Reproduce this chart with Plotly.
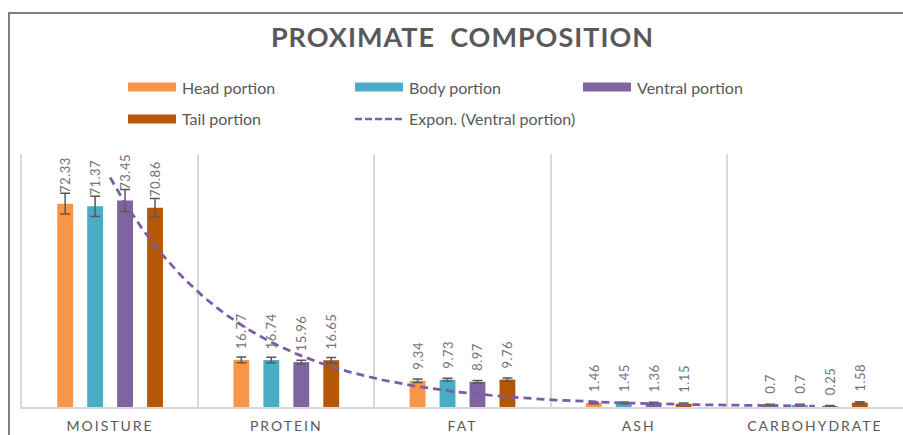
import numpy as np
import plotly.graph_objects as go

# ---------------- data ----------------
categories = ["MOISTURE", "PROTEIN", "FAT", "ASH", "CARBOHYDRATE"]
series_names = ["Head portion", "Body portion", "Ventral portion", "Tail portion"]
head = [72.33, 16.77, 9.34, 1.46, 0.7]
body = [71.37, 16.74, 9.73, 1.45, 0.7]
ventral = [73.45, 15.96, 8.97, 1.36, 0.25]
tail = [70.86, 16.65, 9.76, 1.15, 1.58]
head_err = [3.7, 1.0, 0.6, 0.3, 0.3]
body_err = [3.6, 1.0, 0.5, 0.3, 0.3]
ventral_err = [3.9, 0.7, 0.5, 0.3, 0.3]
tail_err = [3.3, 1.0, 0.6, 0.3, 0.3]
trend_name = "Expon. (Ventral portion)"
title_text = "PROXIMATE  COMPOSITION"

# ---------------- style ----------------
colors = ["#F79646", "#4BACC6", "#8064A2", "#B65708"]
W, H = 903, 435
ML, MR, MT, MB = 22, 0, 154, 28
PW, PH = W - ML - MR, H - MT - MB
FONT = "Lato"
TXT = "#595959"
LABEL_PAD = 3.2  # data units between bar top and its value label


def px_x(p):
    return (p - ML) / PW


def px_y(p):
    return (H - MB - p) / PH


fig = go.Figure()

values = [head, body, ventral, tail]
errors = [head_err, body_err, ventral_err, tail_err]
for name, vals, errs, col in zip(series_names, values, errors, colors):
    fig.add_trace(go.Bar(
        x=categories, y=vals, name=name, offsetgroup=name,
        marker=dict(color=col, line=dict(width=0)),
        error_y=dict(type="data", array=errs, visible=True,
                     color="#595959", thickness=1.5, width=5),
        showlegend=False,
    ))
    # transparent carrier bar for the value labels
    fig.add_trace(go.Bar(
        x=categories, y=[LABEL_PAD] * len(vals), base=vals, offsetgroup=name,
        marker=dict(color="rgba(0,0,0,0)", line=dict(width=0)),
        text=[str(v) for v in vals], textposition="outside", textangle=-90,
        constraintext="none", cliponaxis=False,
        textfont=dict(family=FONT, size=13, color="#737373"),
        showlegend=False, hoverinfo="skip",
    ))

# exponential trendline (Excel style: least squares on ln y)
xi = np.arange(1, len(ventral) + 1)
b, lna = np.polyfit(xi, np.log(ventral), 1)
xs = np.linspace(1, len(ventral), 200)
ys = np.exp(lna) * np.exp(b * xs)
fig.add_trace(go.Scatter(
    x=xs, y=ys, xaxis="x2", mode="lines", name=trend_name,
    line=dict(color="#7B5CA6", width=2.75, dash="8px,5px"),
    showlegend=False, hoverinfo="skip",
))

# ---------------- custom legend ----------------
shapes = []
annotations = []
legend_slots = [(128, 87), (355, 87), (583, 87), (128, 119), (355, 119)]
legend_items = [(n, c, "bar") for n, c in zip(series_names, colors)]
legend_items = legend_items[:3] + [legend_items[3]] + [(trend_name, "#8064A2", "line")]
for (lx, ly), (name, col, kind) in zip(legend_slots, legend_items):
    if kind == "bar":
        shapes.append(dict(type="rect", xref="paper", yref="paper",
                           x0=px_x(lx), x1=px_x(lx + 48),
                           y0=px_y(ly + 4.5), y1=px_y(ly - 4.5),
                           fillcolor=col, line=dict(width=0)))
    else:
        shapes.append(dict(type="line", xref="paper", yref="paper",
                           x0=px_x(lx), x1=px_x(lx + 48),
                           y0=px_y(ly), y1=px_y(ly),
                           line=dict(color=col, width=2.5, dash="7px,3px")))
    annotations.append(dict(text=name, xref="paper", yref="paper",
                            x=px_x(lx + 52), y=px_y(ly), xanchor="left",
                            yanchor="middle", showarrow=False,
                            font=dict(family=FONT, size=16, color=TXT)))

# chart-area frame (only top/left edges visible)
shapes.append(dict(type="rect", xref="paper", yref="paper",
                   x0=px_x(9), x1=px_x(W + 20), y0=px_y(H + 20), y1=px_y(13),
                   line=dict(color="#7F7F7F", width=2), fillcolor="rgba(0,0,0,0)",
                   layer="above"))

fig.update_layout(
    width=W, height=H,
    margin=dict(l=ML, r=MR, t=MT, b=MB, pad=0),
    paper_bgcolor="white", plot_bgcolor="white",
    barmode="group", bargap=0.32, bargroupgap=0.47,
    title=dict(text=title_text, x=0.5, xref="paper", xanchor="center",
               y=1 - 38 / H, yanchor="middle",
               font=dict(family=FONT, size=27, color=TXT, weight="bold")),
    xaxis=dict(type="category", showgrid=True, gridcolor="#D9D9D9", gridwidth=1.5,
               tickson="boundaries", ticks="", showline=True, linecolor="#D9D9D9",
               linewidth=2, tickfont=dict(family=FONT, size=14, color=TXT),
               ticklabelstandoff=5, zeroline=False),
    xaxis2=dict(overlaying="x", range=[0.5, len(categories) + 0.5], visible=False),
    yaxis=dict(range=[0, 90], showgrid=False, showticklabels=False, ticks="",
               zeroline=False, showline=True, linecolor="#D9D9D9", linewidth=1.5),
    shapes=shapes, annotations=annotations, showlegend=False,
)

post = ("var s=document.createElement('style');"
        "s.innerHTML='html,body{margin:0;padding:0;overflow:hidden}"
        ".xtick text{letter-spacing:2px}.gtitle{letter-spacing:1px}"
        ".bartext{letter-spacing:0.5px}';document.head.appendChild(s);")
fig.write_html("out.html", post_script=post, config={"displayModeBar": False})
